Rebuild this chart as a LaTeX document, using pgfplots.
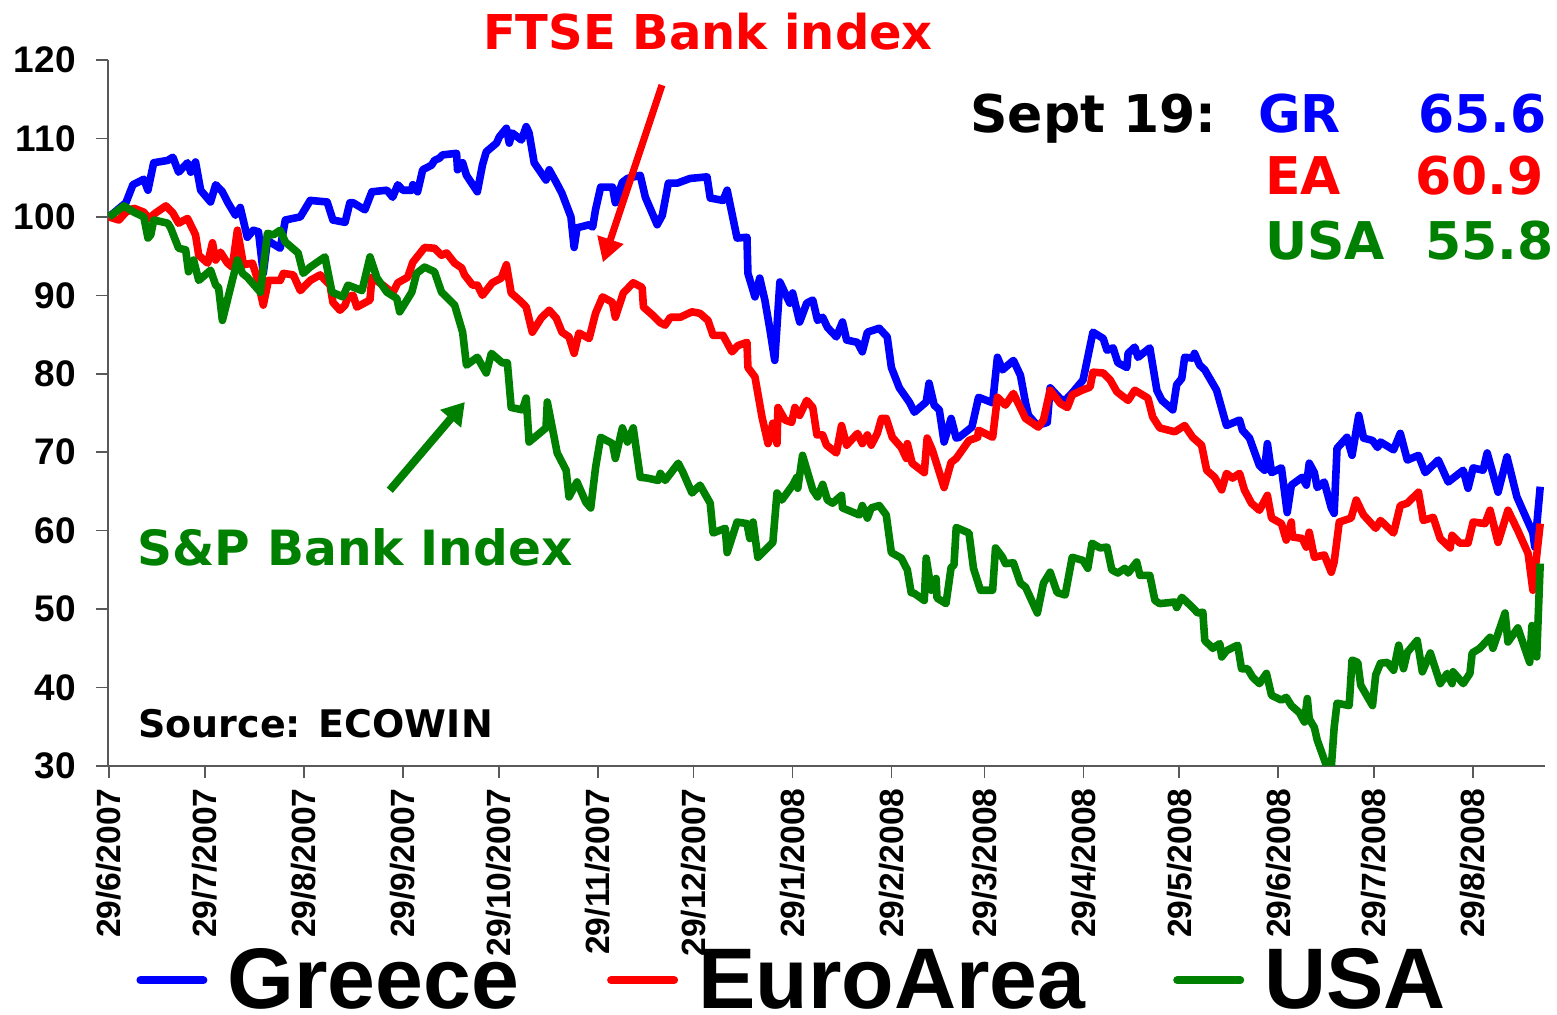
\documentclass[border=0pt]{standalone}
\usepackage{pgfplots}
\pgfplotsset{compat=1.18}
\usetikzlibrary{arrows.meta}
\usepackage{fontspec}
\setmainfont{Liberation Sans}
\newfontfamily\dv{DejaVu Sans}
\definecolor{gblue}{RGB}{0,0,255}
\definecolor{gred}{RGB}{255,0,0}
\definecolor{ggreen}{RGB}{0,128,0}
\begin{document}
\begin{tikzpicture}
\begin{axis}[
  scale only axis, width=718.5pt, height=353pt,
  xmin=-0.3, xmax=449.5, ymin=30, ymax=120,
  axis x line=bottom, axis y line=left,
  axis line style={-, black!65, line width=0.8pt},
  tick style={black!65, line width=0.8pt},
  tick align=outside, major tick length=6pt,
  ytick={30,40,...,120},
  xtick={0,30,61,92,122,153,183,214,245,274,305,335,366,396,427},
  xticklabels={29/6/2007,29/7/2007,29/8/2007,29/9/2007,29/10/2007,29/11/2007,29/12/2007,29/1/2008,29/2/2008,29/3/2008,29/4/2008,29/5/2008,29/6/2008,29/7/2008,29/8/2008},
  xticklabel style={rotate=90, anchor=east, font=\bfseries\fontsize{16.8}{16.8}\selectfont, inner sep=0pt, xshift=-5pt},
  yticklabel style={font=\bfseries\fontsize{18.5}{18.5}\selectfont, inner sep=0pt, xshift=-10pt},
  /pgf/number format/assume math mode=true,
  clip=true, clip mode=individual,
  legend columns=3,
  legend style={draw=none, fill=none, at={(0.0195,-0.3035)}, anchor=west,
    font=\bfseries\fontsize{43}{43}\selectfont, inner sep=0pt,
    nodes={inner sep=0pt},
    /tikz/every odd column/.append style={column sep=10pt},
    /tikz/every even column/.append style={column sep=44pt}},
  legend image code/.code={\draw[#1, line width=4pt, line cap=round] (0pt,0pt) -- (31.5pt,0pt);},
  every axis plot/.append style={line width=3.8pt, line join=round},
]
\addplot[gblue] coordinates {
(0,100) (5.3,101.8) (7.5,104.1) (10.9,104.8) (12.2,103.4) (14,106.9) (18.4,107.2) (20,107.6) (21.8,105.7) (24.6,106.9) (25.6,105.7) (27.1,107.0) (28.7,103.4) (31.8,101.9) (33.4,104.1) (35.5,103.2) (37.1,101.9) (39.6,100.2) (41.1,101.2) (43.3,97.4) (45.2,98.3) (46.8,98.1) (48.3,92.8) (49.6,97.0) (53.6,96.0) (55.2,99.6) (59.9,100.0) (63,102.1) (68.3,101.9) (70.1,99.6) (73.9,99.3) (75.4,101.8) (76.4,101.8) (80.1,100.9) (82.3,103.2) (87,103.4) (88.8,102.5) (90.4,104.1) (92,103.4) (94.8,103.4) (95.1,104.1) (96.6,103.2) (98.2,106.0) (101,106.6) (101.9,107.2) (103.5,107.5) (104.4,107.9) (108.8,108.1) (109.1,106.0) (110.7,106.9) (111.9,105.3) (115.3,103.2) (116.9,106.6) (118.1,108.3) (121.3,109.4) (122.2,110.2) (124.4,111.3) (125.3,109.4) (126.2,110.7) (129.1,109.8) (130.6,111.5) (131.5,110.7) (133.1,106.9) (136.8,104.7) (137.8,106.0) (140,104.4) (141.8,103.0) (144.6,100.0) (145.6,96.1) (146.5,98.6) (150.3,99.0)
(151.4,98.7) (152.3,100.9) (153.9,103.8) (157.6,103.8) (158.5,101.8) (160.7,104.4) (162.3,104.9) (166.3,105.3) (167.9,102.5) (171.6,99.0) (173.2,100.2) (175.1,104.3) (177.9,104.3) (181.9,104.9) (187.2,105.1) (188.2,102.4) (192.2,102.1) (193.5,103.4) (196.6,97.3) (199.7,97.4) (200,92.8) (202.2,89.8) (203.7,92.2) (205.3,89.4) (206.9,85.6) (208.4,81.7) (210,91.7) (213.1,89.0) (214,90.3) (216.2,86.6) (218.4,89.0) (220.3,89.4) (221.8,86.8) (223.4,87.2) (224.9,85.9) (227.7,84.7) (229.6,86.6) (230.9,84.3) (234.3,84.0) (235.8,82.8) (237.4,85.3) (241.1,85.8) (243.6,84.7) (244.9,80.8) (247.4,78.2) (250.5,76.4) (252.1,75.1) (255.8,76.4) (256.7,78.8) (258.3,76.0) (259.9,75.4) (261.4,71.3) (263.6,74.3) (265.2,71.8) (266.1,71.9) (270.1,73.2)
(272.2,77.0) (276.6,76.3) (278.1,82.1) (279.7,80.5) (283.1,81.7) (285.3,79.8) (286.9,76.3) (287.8,74.7) (290.6,73.4) (293.7,73.8) (294.6,78.2) (297.8,76.8) (299.3,76.6) (301.8,77.7) (304.9,79.2) (308,85.3) (311.2,84.5) (312.4,83.0) (314.3,83.3) (315.8,81.4) (318.6,80.8) (319,82.6) (321.1,83.4) (322.1,82.1) (325.8,83.3) (328,77.9) (329.6,76.6) (333,75.4) (334.2,78.6) (335.8,79.4) (336.7,82.1) (339.2,82.0) (339.8,82.6) (341.4,81.1) (343,80.5) (346.7,77.9) (349.8,73.4) (353.9,74.1) (354.8,72.8) (357,71.8) (360.1,68.3) (361.7,67.7) (362.6,71.1) (363.9,67.4) (367,68.0) (368.8,62.3) (370.1,65.8) (373.5,66.8) (374.8,65.8) (375.7,68.6) (377.3,67.4) (378.2,65.5) (380.4,66.2) (382.6,62.9) (383.5,62.2) (384.4,70.5) (387.5,71.9) (389.1,69.6)
(391.2,74.7) (392.7,71.8) (395.5,71.5) (397.1,70.6) (398,71.3) (402.1,70.3) (404.2,72.4) (406.4,69.0) (409.9,69.6) (412,67.4) (416.1,69.0) (419.2,66.2) (423.9,67.7) (425.4,65.4) (427,68.0) (430.1,67.7) (431.4,69.9) (434.8,64.9) (437.6,69.4) (440.7,64.3) (445.7,59.7) (446.3,57.9) (448,65.6)
};
\addlegendentry{Greece}
\addplot[gred] coordinates {
(0,100) (3.1,99.6) (5.3,100.6) (7.8,101.1) (10.9,100.6) (12.5,99.8) (14.6,100.5) (17.8,101.4) (20,100.5) (21.8,99.2) (24.6,99.8) (27.1,97.7) (28.1,95.1) (30.9,94.1) (32.4,96.7) (33.4,94.5) (34.9,95.5) (37.1,94.1) (38.6,93.6) (40.2,98.3) (42.1,93.9) (44.9,94.1) (46.4,92.2) (48.3,88.75) (49.9,91.9) (53.6,91.9) (54.6,92.8) (57.7,92.6) (59.9,90.6) (63,91.9) (66.1,92.6) (69.2,91.3) (70.1,89.1) (72.3,88.1) (73.9,88.75) (74.8,89.8) (76.4,90.0) (77.6,88.5) (81.7,89.4) (82.3,92.3) (85.7,91.3) (88.8,90.3) (90.4,91.6) (93.5,92.3) (95.1,94.2) (98.8,96.1) (101.9,96.0) (104.1,95.1) (105.7,95.4) (108.2,94.1) (110.4,93.5) (111.3,92.6) (113.8,91.3) (115.3,91.3) (116.9,90.0) (120,91.6) (122.8,92.2) (124.4,93.9) (125.9,90.3) (128.4,89.4) (130.6,88.5) (132.5,85.3) (135.3,87.1) (137.8,88.1) (140,87.1) (141.8,85.3) (144,84.7) (145.6,82.6) (147.1,85.2) (150.3,84.5)
(152.3,87.7) (154.5,89.8) (157.6,89.1) (158.5,87.2) (161,90.3) (164.1,91.6) (166.9,91.0) (167.3,88.5) (170.1,87.5) (172.6,86.5) (174.1,86.2) (175.7,87.2) (178.8,87.2) (182.5,87.9) (185,87.7) (187.5,86.8) (189.1,84.9) (192.2,84.9) (195,82.8) (196.9,83.6) (199.7,84.0) (200,80.8) (202.2,79.6) (204.4,74.5) (206.3,71.1) (207.8,73.7) (209.1,71.1) (209.4,75.7) (211.6,74.1) (213.7,73.8) (214.7,75.7) (216.2,74.7) (218.4,76.6) (220.3,75.7) (221.6,72.2) (223.4,72.2) (224.6,70.9) (227.7,69.9) (229.3,73.4) (230.9,70.9) (234.3,72.4) (235.8,71.1) (237.4,72.2) (238.6,70.9) (240.5,72.4) (241.8,74.3) (243.3,74.3) (245.2,71.9) (248,70.6) (249.6,69.2) (249.9,71.1) (251.4,68.6) (255.2,67.4) (256.1,71.8) (257.7,70.3) (261.4,65.5) (263.6,68.7) (265.2,69.2) (269.2,71.5)
(271.9,71.9) (272.2,72.8) (276.6,71.9) (278.1,77.0) (280.6,76.0) (283.1,77.5) (286.9,74.3) (290.9,73.2) (292.5,74.1) (294.6,77.9) (297.8,76.2) (300,75.7) (301.5,77.3) (304.6,77.9) (307.1,78.3) (308,80.2) (311.2,80.1) (313.4,79.2) (315.5,77.7) (319,76.6) (321.1,77.9) (325.2,76.9) (326.7,74.5) (328.9,73.1) (333.6,72.6) (336.7,73.4) (339.2,71.9) (342,70.9) (343.6,67.7) (346.1,66.8) (348.3,65.2) (349.8,67.3) (351.7,66.7) (353.9,67.3) (355.4,65.2) (357.6,63.5) (360.1,62.6) (362.6,64.5) (363.9,61.6) (367,60.9) (368.5,58.8) (370.1,61.1) (370.4,59.2) (373.5,59.0) (374.8,57.9) (375.7,59.8) (377.3,56.6) (380.4,56.9) (382.6,54.7) (383.5,56.0) (385.1,61.1) (388.8,61.6) (390.4,63.9)
(392.7,62.0) (396.5,60.3) (398,61.3) (402.1,59.7) (404.2,63.2) (406.4,63.5) (409.9,64.9) (411.4,61.3) (414.5,61.7) (416.7,59.0) (419.8,57.8) (420.4,59.4) (422.9,58.4) (425.4,58.4) (427,61.1) (430.7,60.9) (432.3,62.6) (434.8,58.5) (437.9,62.6) (441,60.0) (444.2,57.1) (445.7,52.4) (448,60.9)
};
\addlegendentry{EuroArea}
\addplot[ggreen] coordinates {
(0,100) (4.7,101.4) (7.8,100.6) (10.9,100) (12.2,97.3) (13.1,97.7) (14,99.6) (18.4,99.2) (19.3,98.6) (21.8,96.0) (24,95.8) (24.9,93.0) (26.5,94.5) (28.1,91.9) (31.8,93.2) (33.4,91.3) (34.3,91.0) (35.5,86.8) (40.2,94.5) (41.8,92.8) (43.3,92.3) (47.4,90.4) (49.6,97.9) (51.4,97.7) (53.6,98.3) (55.2,96.8) (59.2,95.4) (60.8,92.8) (63,93.6) (67.6,94.9) (69.8,90.4) (73.2,89.8) (74.8,91.3) (79.2,90.6) (81.7,94.9) (83.9,92.2) (87,90.4) (90.1,89.6) (91,87.9) (94.8,90.4) (96.3,92.8) (98.8,93.6) (101.9,93.0) (104.1,90.4) (108.2,88.75) (110.7,85.3) (111.9,81.1) (115.3,82.1) (118.1,80.1) (119.7,82.6) (123.1,81.4) (124.7,81.4) (125.9,75.7) (129.4,75.4) (130.6,76.9) (131.5,71.3) (136.8,73.1) (137.2,76.4) (140.3,69.9) (143.1,67.7) (144,64.3) (146.5,66.2) (149.3,63.6)
(150.8,62.9) (152.3,68.0) (153.9,71.9) (157.6,71.1) (158.5,69.2) (160.7,73.1) (162.3,71.3) (164.1,73.1) (166.3,66.8) (168.5,66.7) (171.9,66.4) (172.6,67.3) (174.1,66.4) (178.2,68.6) (179.7,67.4) (182.5,64.8) (185,65.8) (188.2,63.5) (189.1,59.7) (192.9,60.3) (193.5,57.2) (196.6,61.1) (199.7,60.9) (200.6,59.0) (201.6,61.1) (203.1,56.6) (207.8,58.5) (209.1,64.8) (210.6,63.9) (214,65.8) (215.3,66.8) (215.6,65.4) (217.1,69.6) (220.3,65.2) (221.8,64.3) (223.4,65.9) (224.9,63.9) (226.5,63.5) (229.3,64.5) (229.6,62.9) (234.9,62.0) (235.8,63.2) (237.4,61.6) (238.6,62.9) (241.1,63.2) (243.3,62.0) (244.9,57.2) (248,56.5) (249.9,55.0) (251.1,52.1) (252.1,52.0) (255.2,51.1) (255.8,56.5) (257.4,52.4) (258.9,53.9) (259.2,51.4) (262,50.7) (263.6,55.3) (264.5,55.6) (265.2,60.4) (269.2,59.7)
(270.6,55.2) (272.8,52.4) (276.6,52.4) (277.5,57.8) (279.7,56.6) (280.6,55.8) (283.1,55.9) (285.3,53.3) (286.9,52.8) (290.6,49.5) (292.5,53.3) (294.6,54.7) (296.8,52.1) (299.3,51.8) (301.5,56.6) (304.9,56.2) (306.4,55.2) (307.7,58.4) (310.2,57.8) (312.4,57.9) (313.9,55.0) (315.8,54.6) (318,55.2) (319,54.6) (321.7,56.0) (322.7,54.3) (325.8,54.3) (327.4,51.1) (328.9,50.7) (333.6,50.9) (334.2,50.2) (335.8,51.5) (339.2,50.2) (340.8,49.5) (342.4,49.6) (343,46.0) (345.5,45.0) (347.7,45.6) (348.3,43.9) (349.8,44.7) (353.3,45.4) (354.5,42.4) (356.4,42.4) (358,41.3) (360.1,40.5) (362.3,41.8) (363.9,39.0) (367,38.4) (368.5,38.75) (370.1,37.7) (372.6,36.8) (374.2,35.6) (375.1,38.6) (375.7,36.0) (377.3,34.9) (378.2,33.3) (381.3,29.8) (382.6,29.8) (383.5,34.9) (384.4,38.0) (388.2,37.7) (389.1,43.5)
(390.9,43.2) (391.8,40.3) (395.5,37.7) (396.5,41.6) (398,43.1) (400.2,43.2) (402.1,42.2) (403.7,45.4) (405.2,42.4) (406.4,44.5) (409.5,46.0) (411.1,42.0) (413.6,44.4) (416.7,40.5) (418.9,41.8) (420.4,40.5) (420.7,42.0) (423.9,40.5) (426,41.8) (426.7,44.4) (429.1,45.0) (432.3,46.4) (433.2,45.0) (437,49.5) (437.9,45.8) (441,47.6) (444.7,43.2) (445.4,47.9) (446.9,43.9) (448,55.8)
};
\addlegendentry{USA}
% annotations
\node[gred, font=\dv\bfseries\fontsize{24}{24}\selectfont, anchor=base, inner sep=0pt] at (axis cs:187.5,121.28) {FTSE Bank index};
\draw[gred, line width=3.5pt, -{Triangle[length=12pt,width=13pt]}] (axis cs:173.1,116.8) -- (axis cs:154.6,94.2);
\node[ggreen, font=\dv\bfseries\fontsize{24.3}{24.3}\selectfont, anchor=base, inner sep=0pt] at (axis cs:77,55.6) {S\&P Bank Index};
\draw[ggreen, line width=4pt, -{Triangle[length=11pt,width=13pt]}] (axis cs:87.9,65.15) -- (axis cs:111.4,76.4);
\node[black, font=\dv\bfseries\fontsize{19}{19}\selectfont, anchor=base west, inner sep=0pt] at (axis cs:9.1,33.65) {Source: ECOWIN};
\node[black, font=\dv\bfseries\fontsize{26}{26}\selectfont, anchor=base west, inner sep=0pt] at (axis cs:269.5,110.8) {Sept 19:};
\node[gblue, font=\dv\bfseries\fontsize{26}{26}\selectfont, anchor=base west, inner sep=0pt] at (axis cs:359.6,110.8) {GR};
\node[gblue, font=\dv\bfseries\fontsize{26}{26}\selectfont, anchor=base west, inner sep=0pt] at (axis cs:409.7,110.8) {65.6};
\node[gred, font=\dv\bfseries\fontsize{26}{26}\selectfont, anchor=base west, inner sep=0pt] at (axis cs:361.8,102.8) {EA};
\node[gred, font=\dv\bfseries\fontsize{26}{26}\selectfont, anchor=base west, inner sep=0pt] at (axis cs:408.8,102.8) {60.9};
\node[ggreen, font=\dv\bfseries\fontsize{26}{26}\selectfont, anchor=base west, inner sep=0pt] at (axis cs:361.8,94.6) {USA};
\node[ggreen, font=\dv\bfseries\fontsize{26}{26}\selectfont, anchor=base west, inner sep=0pt] at (axis cs:411.9,94.6) {55.8};
\coordinate (bbSW) at (rel axis cs:-0.07516,-0.35269);
\coordinate (bbNE) at (rel axis cs:1.00835,1.08499);
\end{axis}
\pgfresetboundingbox
\path[use as bounding box] (bbSW) rectangle (bbNE);
\end{tikzpicture}
\end{document}
